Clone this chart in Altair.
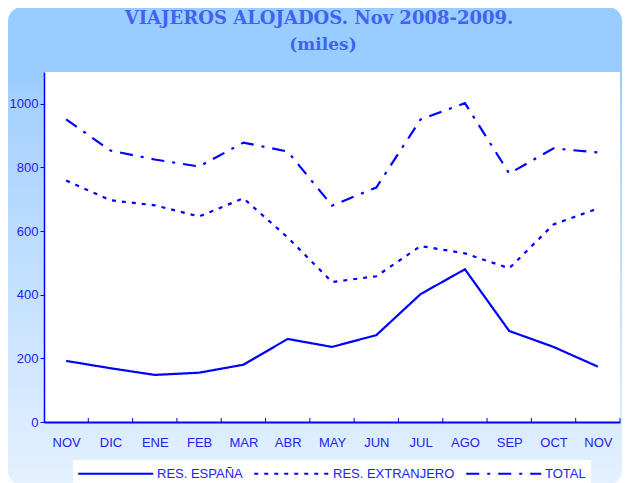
import json
import altair as alt
import pandas as pd

months = ["NOV", "DIC", "ENE", "FEB", "MAR", "ABR", "MAY", "JUN", "JUL", "AGO", "SEP", "OCT", "NOV"]
series_names = ["RES. ESPAÑA", "RES. EXTRANJERO", "TOTAL"]
espana = [192, 169, 148, 155, 180, 261, 236, 273, 402, 480, 286, 236, 174]
extranjero = [759, 697, 681, 646, 703, 580, 440, 458, 553, 530, 483, 621, 671]
total = [951, 853, 825, 803, 878, 850, 680, 737, 951, 1002, 781, 860, 847]
y_ticks = [0, 200, 400, 600, 800, 1000]
title_lines = ["VIAJEROS ALOJADOS. Nov 2008-2009.", "(miles)"]

W, H = 576, 350
PL, PT, PR, PB = 36, 64, 2, 61
step = W / len(months)

BLUE = "#0000FF"
TXT = "#2222EE"

rows = []
for name, vals in zip(series_names, [espana, extranjero, total]):
    for i, v in enumerate(vals):
        rows.append({"idx": i, "serie": name, "valor": v})
df = pd.DataFrame(rows)

label_expr = json.dumps(months) + "[datum.value]"

x_enc = alt.X(
    "idx:O",
    scale=alt.Scale(type="point", padding=0.5),
    axis=alt.Axis(
        title=None, labelExpr=label_expr, labelAngle=0, ticks=False,
        labelPadding=14, labelFont="Liberation Sans", labelFontSize=13,
        labelColor=TXT, domainColor=BLUE, domainWidth=2, zindex=1,
    ),
)

one = pd.DataFrame({"a": [0]})

bg = alt.Chart(one).mark_rect(
    cornerRadius=14,
    fill=alt.Gradient(
        gradient="linear",
        stops=[
            alt.GradientStop(color="#99CCFF", offset=0),
            alt.GradientStop(color="#99CCFF", offset=0.14),
            alt.GradientStop(color="#A6D1FF", offset=0.2),
            alt.GradientStop(color="#E4F1FF", offset=1),
        ],
        x1=0, x2=0, y1=0, y2=1,
    ),
).encode(
    x=alt.value(-PL), x2=alt.value(W + PR),
    y=alt.value(-PT - 1), y2=alt.value(H + PB + 2),
)

plot_bg = alt.Chart(one).mark_rect(fill="white").encode(
    x=alt.value(0), x2=alt.value(W), y=alt.value(0), y2=alt.value(H)
)

title1 = alt.Chart(one).mark_text(
    text=title_lines[0], font="DejaVu Serif", fontSize=18, fontWeight="bold",
    color="#4262F0", align="center", baseline="middle",
).encode(x=alt.value(275), y=alt.value(-53))

title2 = alt.Chart(one).mark_text(
    text=title_lines[1], font="DejaVu Serif", fontSize=17, fontWeight="bold",
    color="#4262F0", align="center", baseline="middle",
).encode(x=alt.value(279), y=alt.value(-27))

tick_df = pd.DataFrame({"idx": list(range(len(months)))})
ticks = alt.Chart(tick_df).mark_rule(color=BLUE, strokeWidth=1, xOffset=step / 2).encode(
    x=x_enc, y=alt.value(H - 4), y2=alt.value(H)
)

legend_cfg = dict(
    title=None, orient="none", legendX=29, legendY=388,
    direction="horizontal", fillColor="white", padding=5,
    symbolType="M-1.1,0H8.9", symbolSize=225, symbolStrokeWidth=2,
    labelFont="Liberation Sans", labelFontSize=13, labelColor=TXT,
    labelOffset=62, columnPadding=7, zindex=1,
)

lines = alt.Chart(df).mark_line(strokeWidth=2.2).encode(
    x=x_enc,
    y=alt.Y(
        "valor:Q",
        scale=alt.Scale(domain=[0, 1100], nice=False),
        axis=alt.Axis(
            title=None, values=y_ticks, format="d", grid=False, tickSize=4, tickColor=BLUE,
            labelPadding=2, labelFont="Liberation Sans", labelFontSize=13,
            labelColor=TXT, domainColor=BLUE, domainWidth=1.5, zindex=1,
        ),
    ),
    color=alt.Color(
        "serie:N",
        scale=alt.Scale(domain=series_names, range=[BLUE, BLUE, BLUE]),
        legend=alt.Legend(**legend_cfg),
    ),
    strokeDash=alt.StrokeDash(
        "serie:N",
        scale=alt.Scale(domain=series_names, range=[[1, 0], [4, 6], [13, 8, 3, 8]]),
        legend=alt.Legend(**legend_cfg),
    ),
)

chart = alt.layer(bg, plot_bg, title1, title2, ticks, lines).properties(
    width=W, height=H,
    autosize=alt.AutoSizeParams(type="none"),
    padding={"left": PL, "top": PT, "right": PR, "bottom": PB},
).configure_view(stroke=None).configure(background="white")

chart.save("out.html", embed_options={"renderer": "svg", "actions": False})
